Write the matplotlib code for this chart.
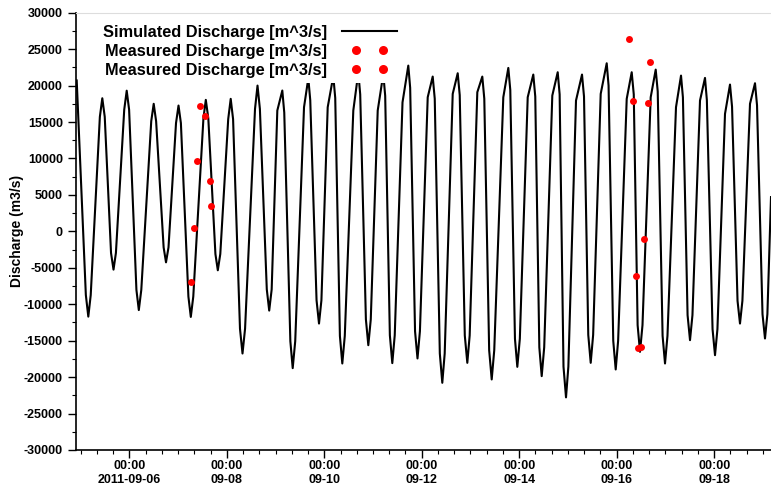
import pandas as pd
import numpy as np
import matplotlib
matplotlib.use("Agg")
import matplotlib.pyplot as plt
import matplotlib.dates as mdates
from matplotlib.legend_handler import HandlerLine2D

plt.rcParams['font.family'] = ['Liberation Sans', 'DejaVu Sans']
plt.rcParams['font.weight'] = 'bold'

BASE = pd.Timestamp("2011-09-06 00:00")

# simulated discharge: hours after BASE and discharge [m^3/s]
sim_hours = [
    -25.90, -21.4, -20.19, -19.0, -14.5, -13.30, -12.1, -9.0, -7.78, -6.6,
    -2.5, -1.28, -0.1, 3.5, 4.68, 5.9, 10.8, 12.01, 13.2, 16.9,
    18.07, 19.3, 23.0, 24.23, 25.4, 29.1, 30.28, 31.5, 36.5, 37.67,
    38.9, 42.4, 43.58, 44.8, 48.7, 49.93, 51.1, 54.5, 55.74, 57.0,
    61.9, 63.13, 64.3, 67.7, 68.89, 70.1, 72.88, 75.34, 76.3, 79.3,
    80.46, 81.7, 86.03, 88.14, 89.1, 92.2, 93.41, 94.6, 97.69, 100.45,
    101.4, 103.7, 104.88, 106.1, 110.30, 112.76, 113.7, 116.5, 117.69, 118.9,
    122.32, 125.07, 126.0, 128.3, 129.50, 130.7, 134.53, 137.38, 138.3, 140.7,
    141.91, 143.1, 146.94, 149.40, 150.4, 152.9, 154.12, 155.3, 159.25, 161.71,
    162.7, 165.2, 166.44, 167.6, 171.36, 173.82, 174.8, 177.2, 178.45, 179.7,
    184.16, 186.63, 187.6, 189.9, 191.06, 192.3, 196.18, 198.93, 199.9, 201.9,
    203.07, 204.3, 208.29, 210.95, 211.9, 213.8, 215.04, 216.2, 219.96, 222.92,
    223.9, 226.0, 227.20, 228.4, 232.12, 235.08, 236.0, 238.3, 239.51, 240.7,
    244.93, 247.39, 248.4, 250.3, 251.48, 252.7, 256.74, 259.21, 260.2, 262.6,
    263.79, 265.0, 269.20, 271.67, 272.6, 274.9, 276.10, 277.3, 281.02, 283.48,
    284.4, 287.2, 288.41, 289.6, 293.33, 295.79, 296.8, 299.5, 300.71, 301.9,
    305.64, 308.10, 309.1, 311.8, 313.02, 314.2, 315.98,
]
sim_q = [
    20700, -8740, -11700, -8740, 15720, 18260, 15720, -2970, -5250, -2970,
    16700, 19300, 16700, -8030, -10800, -8030, 15120, 17500, 15120, -2200,
    -4250, -2200, 14860, 17260, 14860, -8950, -11740, -8950, 15515, 18040,
    15515, -3110, -5340, -3110, 15400, 18180, 15400, -13360, -16760, -13360,
    16800, 20000, 16800, -7970, -10870, -7970, 16580, 19320, 16300, -15070,
    -18770, -15070, 17030, 21000, 18000, -9450, -12650, -9450, 17030, 21300,
    18300, -14360, -18130, -14360, 16580, 21800, 18800, -12080, -15620, -12080,
    16580, 21600, 18600, -14260, -18080, -14260, 17700, 22740, 19700, -13700,
    -17440, -13700, 18400, 21235, 18200, -16770, -20780, -16770, 18860, 21690,
    18700, -14290, -18040, -14290, 19090, 21235, 18200, -16320, -20320, -16320,
    18400, 22420, 19400, -14740, -18590, -14740, 18400, 21510, 18500, -15915,
    -19865, -15915, 18630, 21830, 18800, -18560, -22780, -18560, 17950, 21510,
    18500, -14210, -18040, -14210, 18860, 23060, 20000, -15020, -18950, -15020,
    18180, 21830, 18800, -12870, -16530, -12870, 18400, 22190, 19200, -14340,
    -18130, -14340, 17030, 21370, 18400, -11500, -14930, -11500, 17950, 21050,
    18000, -13420, -16990, -13420, 16120, 20140, 17100, -9530, -12650, -9530,
    17500, 20320, 17300, -11370, -14700, -11370, 4700,
]

# measured discharge, first and second campaign
meas1_hours = [35.0, 37.2, 33.2, 39.9, 40.1, 31.9, 30.2]
meas1_q = [17220, 15800, 9630, 6950, 3430, 450, -6990]
meas2_hours = [245.9, 256.6, 248.1, 255.6, 253.6, 249.5, 250.6, 252.0]
meas2_q = [26340, 23290, 17950, 17630, -1000, -6160, -15990, -15930]

ytick_values = list(range(-30000, 30001, 5000))
xtick_days = [0, 2, 4, 6, 8, 10, 12]
xtick_labels = ["00:00\n2011-09-06", "00:00\n09-08", "00:00\n09-10", "00:00\n09-12",
                "00:00\n09-14", "00:00\n09-16", "00:00\n09-18"]


def to_time(hours):
    return BASE + pd.to_timedelta(np.asarray(hours), unit="h")


fig = plt.figure(figsize=(7.71, 4.88), dpi=100)
ax = fig.add_axes([76 / 771, 38 / 488, 695 / 771, 437.3 / 488])

sim_line, = ax.plot(to_time(sim_hours), sim_q, color="black", linewidth=1.5,
                    label="Simulated Discharge [m^3/s]", zorder=2)
meas1_pts, = ax.plot(to_time(meas1_hours), meas1_q, linestyle="none", marker="o",
                     markersize=5, color="red", markeredgewidth=0,
                     label="Measured Discharge [m^3/s]", zorder=3)
meas2_pts, = ax.plot(to_time(meas2_hours), meas2_q, linestyle="none", marker="o",
                     markersize=5, color="red", markeredgewidth=0,
                     label="Measured Discharge [m^3/s]", zorder=3)

ax.set_xlim(to_time([-26.25])[0], to_time([315.98])[0])
ax.set_ylim(-30000, 30000)

ax.set_yticks(ytick_values)
ax.set_yticklabels([str(v) for v in ytick_values])
ax.yaxis.set_minor_locator(plt.MultipleLocator(2500))

ax.set_xticks([BASE + pd.Timedelta(days=d) for d in xtick_days])
ax.set_xticklabels(xtick_labels)
ax.xaxis.set_minor_locator(mdates.HourLocator(byhour=[0, 8, 16]))

ax.tick_params(which="major", length=6, width=1, labelsize=9)
ax.tick_params(axis="x", which="major", pad=1.5)
ax.tick_params(which="minor", length=3, width=0.8)
for lbl in ax.get_xticklabels() + ax.get_yticklabels():
    lbl.set_fontweight("bold")

ax.spines["right"].set_visible(False)
ax.spines["top"].set_color("#dddddd")
ax.spines["left"].set_linewidth(1.2)
ax.spines["bottom"].set_linewidth(1.2)

ax.set_ylabel("Discharge (m3/s)", fontsize=10, fontweight="bold", labelpad=0)

leg = ax.legend(loc="upper left", bbox_to_anchor=(98 / 771, 1 - 20 / 488),
                bbox_transform=fig.transFigure, frameon=True, facecolor="white",
                edgecolor="none", framealpha=1, fancybox=False, markerfirst=False,
                numpoints=2, handlelength=3.35, handletextpad=0.9, labelspacing=0.25,
                borderpad=0.3, borderaxespad=0, markerscale=1.3,
                prop={"size": 11.8, "weight": "bold"},
                handler_map={sim_line: HandlerLine2D(marker_pad=0, numpoints=2),
                             meas1_pts: HandlerLine2D(marker_pad=0.85, numpoints=2),
                             meas2_pts: HandlerLine2D(marker_pad=0.85, numpoints=2)})
leg.set_zorder(5)

fig.savefig("out.png", dpi=100)
